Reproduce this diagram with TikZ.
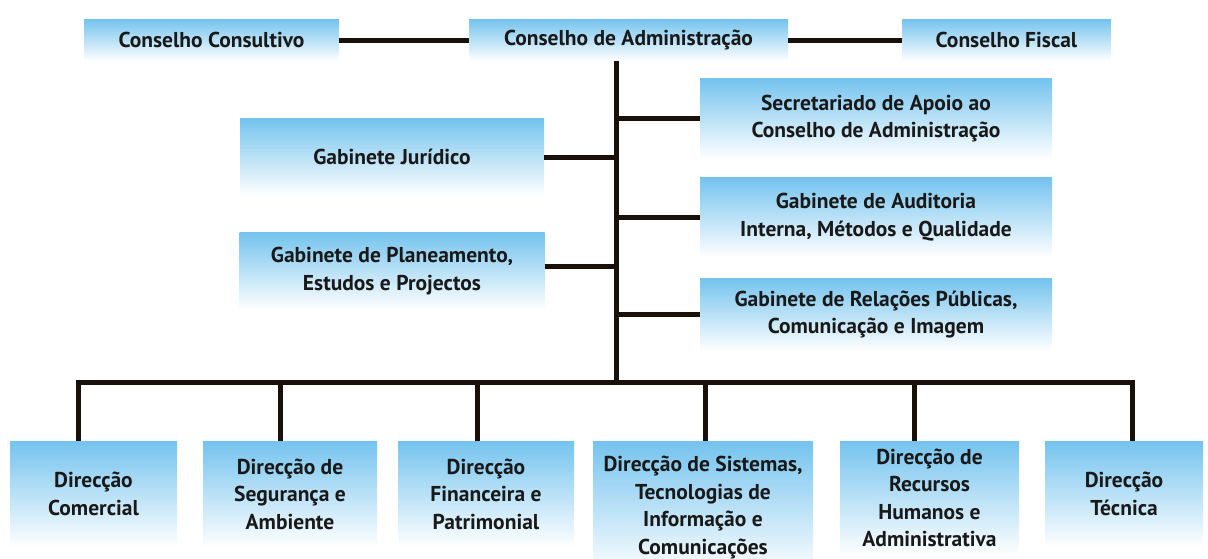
\documentclass[tikz,border=0pt]{standalone}
\usepackage{fontspec}
\setmainfont{PT Sans}
\definecolor{caixaazul}{RGB}{116,195,238}
\definecolor{linha}{RGB}{26,16,10}
\tikzset{
  caixa/.style={top color=caixaazul, bottom color=white, align=center, inner sep=0pt,
    text=black!90, font=\bfseries\fontsize{21.5}{27.5}\selectfont},
  liga/.style={line width=5pt, linha}
}

\begin{document}
\begin{tikzpicture}[x=1pt,y=-1pt]
  \useasboundingbox (0,0) rectangle (1208,558);
  % Conselhos
  \node[caixa, minimum width=255pt, minimum height=42pt] (cons) at (211.5,40) {Conselho Consultivo};
  \node[caixa, minimum width=319pt, minimum height=42pt] (adm) at (628.5,40) {Conselho de Administração};
  \node[caixa, minimum width=209pt, minimum height=42pt] (fisc) at (1006.5,40) {Conselho Fiscal};

  % Gabinetes
  \node[caixa, minimum width=352pt, minimum height=81pt] (sec) at (876,118.5) {Secretariado de Apoio ao\\Conselho de Administração};
  \node[caixa, minimum width=304pt, minimum height=78pt] (jur) at (392,157) {Gabinete Jurídico};
  \node[caixa, minimum width=352pt, minimum height=80pt] (aud) at (876,217) {Gabinete de Auditoria\\Interna, Métodos e Qualidade};
  \node[caixa, minimum width=305pt, minimum height=78pt] (plan) at (392,271) {Gabinete de Planeamento,\\Estudos e Projectos};
  \node[caixa, minimum width=352pt, minimum height=73pt] (rel) at (876,314.5) {Gabinete de Relações Públicas,\\Comunicação e Imagem};

  % Direcções
  \node[caixa, minimum width=167pt, minimum height=106pt] (com) at (93.5,494) {Direcção\\Comercial};
  \node[caixa, minimum width=174pt, minimum height=106pt] (seg) at (290,494) {Direcção de\\Segurança e\\Ambiente};
  \node[caixa, minimum width=176pt, minimum height=106pt] (fin) at (486,494) {Direcção\\Financeira e\\Patrimonial};
  \node[caixa, minimum width=220pt, minimum height=133pt] (sis) at (703,507.5) {Direcção de Sistemas,\\Tecnologias de\\Informação e\\Comunicações};
  \node[caixa, minimum width=179pt, minimum height=114pt] (rh) at (929.5,498) {Direcção de\\Recursos\\Humanos e\\Administrativa};
  \node[caixa, minimum width=158pt, minimum height=106pt] (tec) at (1124,494) {Direcção\\Técnica};

  % ligações
  \coordinate (bus) at (616,382);
  \coordinate (d1) at (78,382);
  \coordinate (d2) at (280,382);
  \coordinate (d3) at (477,382);
  \coordinate (d4) at (705,382);
  \coordinate (d5) at (914,382);
  \coordinate (d6) at (1132,382);

  \draw[liga] (cons) -- (adm);
  \draw[liga] (adm) -- (fisc);
  \draw[liga] (adm.south -| bus) -- (bus);
  \draw[liga] (sec.west) -- (sec.west -| bus);
  \draw[liga] (jur.east) -- (jur.east -| bus);
  \draw[liga] (aud.west) -- (aud.west -| bus);
  \draw[liga] ([yshift=5pt]plan.east) -- ([yshift=5pt]plan.east -| bus);
  \draw[liga] (rel.west) -- (rel.west -| bus);

  \draw[liga] (d1 |- com.north) -- (d1) -- (d6) -- (d6 |- tec.north);
  \draw[liga] (d2) -- (d2 |- seg.north);
  \draw[liga] (d3) -- (d3 |- fin.north);
  \draw[liga] (d4) -- (d4 |- sis.north);
  \draw[liga] (d5) -- (d5 |- rh.north);
\end{tikzpicture}
\end{document}
